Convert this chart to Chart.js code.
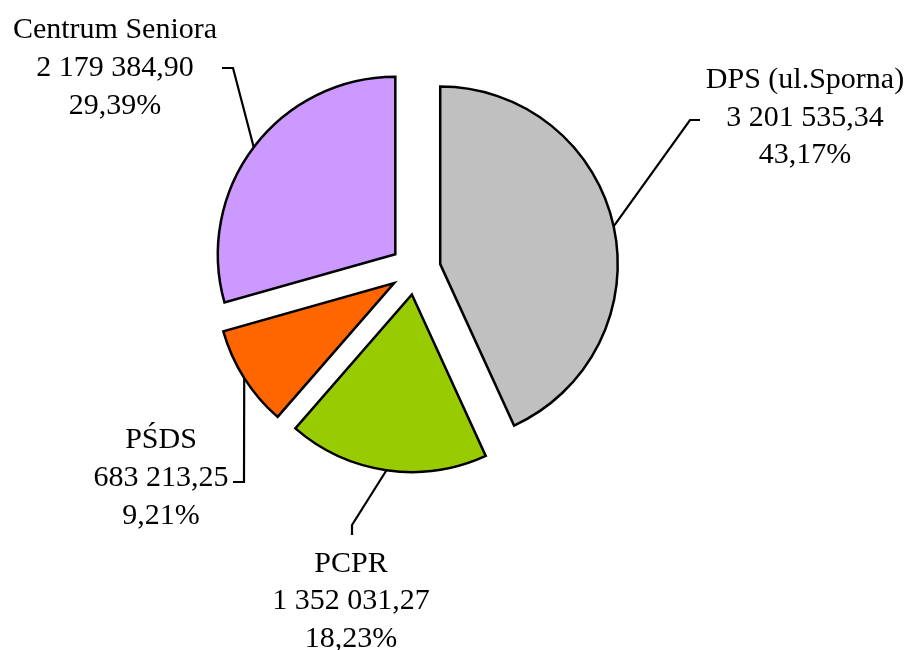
<!DOCTYPE html>
<html>
<head>
<meta charset="utf-8">
<script src="https://cdn.jsdelivr.net/npm/chart.js@4/dist/chart.umd.min.js"></script>
<style>
  html, body { margin: 0; padding: 0; background: #ffffff; }
  #wrap { width: 908px; height: 650px; overflow: hidden; }
</style>
</head>
<body>
<div id="wrap"><canvas id="c" width="908" height="650"></canvas></div>
<script>
// ---- data ----
const categories = ['DPS (ul.Sporna)', 'PCPR', 'PŚDS', 'Centrum Seniora'];
const values = [3201535.34, 1352031.27, 683213.25, 2179384.90];

// ---- styles / layout (not data) ----
const colors = ['#C0C0C0', '#99CC00', '#FF6600', '#CC99FF'];
const EXPLODE = 25.3;
const FONT = '30px "Liberation Serif", "Times New Roman", serif';
const LINE_H = 37.8;
// label centre x, first baseline y, leader elbow, leader stub end
const labelLayout = [
  { x: 805, y: 87.7,  elbow: [690, 120], stub: [700, 120] },
  { x: 351, y: 571.5, elbow: [352, 525], stub: [352, 535] },
  { x: 161, y: 448.3, elbow: [244, 482], stub: [233, 482] },
  { x: 115, y: 38.3,  elbow: [233, 68],  stub: [222, 68] }
];

function fmtNum(v) {
  const parts = v.toFixed(2).split('.');
  return parts[0].replace(/\B(?=(\d{3})+(?!\d))/g, ' ') + ',' + parts[1];
}
const total = values.reduce((a, b) => a + b, 0);
function fmtPct(v) {
  return (v / total * 100).toFixed(2).replace('.', ',') + '%';
}

const explodePlugin = {
  id: 'explode',
  afterDatasetUpdate(chart, args) {
    const meta = chart.getDatasetMeta(args.index);
    meta.data.forEach(el => {
      const mid = (el.startAngle + el.endAngle) / 2;
      el.x += Math.cos(mid) * EXPLODE;
      el.y += Math.sin(mid) * EXPLODE;
    });
  }
};

const labelPlugin = {
  id: 'pieLabels',
  afterDatasetsDraw(chart) {
    const ctx = chart.ctx;
    const meta = chart.getDatasetMeta(0);
    ctx.save();
    ctx.strokeStyle = '#000000';
    ctx.lineWidth = 2.2;
    ctx.lineJoin = 'miter';
    meta.data.forEach((el, i) => {
      const L = labelLayout[i];
      const mid = (el.startAngle + el.endAngle) / 2;
      const ax = el.x + Math.cos(mid) * el.outerRadius;
      const ay = el.y + Math.sin(mid) * el.outerRadius;
      ctx.beginPath();
      ctx.moveTo(ax, ay);
      ctx.lineTo(L.elbow[0], L.elbow[1]);
      ctx.lineTo(L.stub[0], L.stub[1]);
      ctx.stroke();
    });
    ctx.fillStyle = '#000000';
    ctx.font = FONT;
    ctx.textAlign = 'center';
    ctx.textBaseline = 'alphabetic';
    categories.forEach((name, i) => {
      const L = labelLayout[i];
      ctx.fillText(name, L.x, L.y);
      ctx.fillText(fmtNum(values[i]), L.x, L.y + LINE_H);
      ctx.fillText(fmtPct(values[i]), L.x, L.y + 2 * LINE_H);
    });
    ctx.restore();
  }
};

new Chart(document.getElementById('c'), {
  type: 'pie',
  data: {
    labels: categories,
    datasets: [{
      data: values,
      backgroundColor: colors,
      borderColor: '#000000',
      borderWidth: 2.5,
      borderJoinStyle: 'miter',
      borderAlign: 'center'
    }]
  },
  options: {
    responsive: false,
    animation: false,
    radius: 177.5,
    layout: { padding: { left: 0, right: 77, top: 0, bottom: 111 } },
    plugins: {
      legend: { display: false },
      tooltip: { enabled: false }
    }
  },
  plugins: [explodePlugin, labelPlugin]
});
</script>
</body>
</html>
